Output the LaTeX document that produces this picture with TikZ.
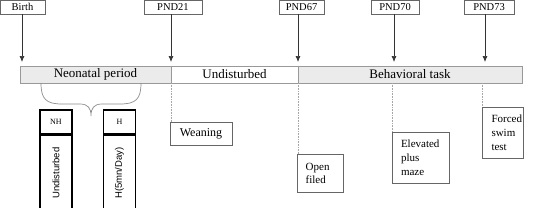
\documentclass[tikz,border=0pt]{standalone}
\usepackage{fontspec}
\setmainfont{Liberation Serif}
\newfontfamily\rotsans{Liberation Sans}
\usetikzlibrary{arrows.meta}
\definecolor{barfill}{HTML}{EBEBEB}
\definecolor{edgegray}{HTML}{666666}
\tikzset{
  x=1pt, y=-1pt,
  topbox/.style={draw=edgegray, line width=0.7pt, fill=white, minimum height=14pt, inner sep=0pt, font=\fontsize{10.5}{12}\selectfont},
  barseg/.style={draw=gray!80, line width=0.8pt, minimum height=17pt, inner sep=0pt, font=\fontsize{13}{15}\selectfont},
  evbox/.style={draw=edgegray, line width=0.7pt, align=left, font=\fontsize{11}{14}\selectfont},
  arr/.style={draw=black!80, line width=0.7pt, -{Latex[length=6pt,width=5pt]}},
  dotline/.style={draw=gray!70, line width=0.6pt, densely dotted},
  grpbox/.style={draw=black, line width=1.1pt, minimum width=32pt, inner sep=0pt},
}
\begin{document}
\begin{tikzpicture}
\useasboundingbox (0,0) rectangle (533,207);
% timeline bar
\node[barseg, fill=barfill, minimum width=151pt] (neo) at (95.5,74.5) {Neonatal period};
\node[barseg, fill=white, minimum width=127pt] (und) at (234.5,74.5) {Undisturbed};
\node[barseg, fill=barfill, minimum width=224pt] (beh) at (410,74.5) {Behavioral task};
% top labels
\node[topbox, minimum width=45pt] (birth) at (22.5,7) {Birth};
\node[topbox, minimum width=58pt] (p21) at (173,7) {PND21};
\node[topbox, minimum width=45pt] (p67) at (301.5,7) {PND67};
\node[topbox, minimum width=48pt] (p70) at (395,7) {PND70};
\node[topbox, minimum width=50pt] (p73) at (489,7) {PND73};
% arrow tips
\coordinate (a0) at (22,62);
\coordinate (a1) at (171,62);
\coordinate (a2) at (298,62);
\coordinate (a3) at (394,62);
\coordinate (a4) at (485,62);
\draw[arr] (a0 |- birth.south) -- (a0);
\draw[arr] (a1 |- p21.south) -- (a1);
\draw[arr] (a2 |- p67.south) -- (a2);
\draw[arr] (a3 |- p70.south) -- (a3);
\draw[arr] (a4 |- p73.south) -- (a4);
% event boxes
\node[evbox, minimum width=62pt, minimum height=23pt, align=center, font=\fontsize{12}{14}\selectfont] (wean) at (201,133.5) {Weaning};
\node[evbox, inner xsep=8.7pt, text width=28.6pt, minimum height=38pt, font=\fontsize{11}{13}\selectfont] (open) at (320,173) {Open\\filed};
\node[evbox, inner xsep=9pt, text width=39pt, minimum height=51pt] (epm) at (420.5,157.5) {Elevated\\plus\\maze};
\node[evbox, inner xsep=9.5pt, text width=22pt, minimum height=51pt] (fst) at (502.5,132.5) {Forced\\swim\\test};
% dotted connectors
\coordinate (d0) at (171,83);
\coordinate (d1) at (298,83);
\coordinate (d2) at (392,83);
\coordinate (d3) at (482.7,83);
\draw[dotline] (d0) -- (d0 |- wean.north);
\draw[dotline] (d1) -- (d1 |- open.north);
\draw[dotline] (d2) -- (d2 |- epm.north);
\draw[dotline] (d3) -- (d3 |- fst.north);
% brace
\draw[draw=gray!90, line width=0.7pt] (41,83) .. controls (41,99) and (46,104) .. (62,104) -- (80,104) .. controls (88,104) and (91,108) .. (91,116)
  .. controls (91,108) and (94,104) .. (102,104) -- (120,104) .. controls (136,104) and (141,99) .. (141,83);
% group boxes
\node[grpbox, minimum height=24pt, font=\fontsize{8}{9}\selectfont] (nh) at (56,122) {NH};
\node[grpbox, minimum height=76pt, anchor=north] (nhb) at (nh.south) {\rotatebox{90}{\rotsans\fontsize{9.5}{11}\selectfont Undisturbed}};
\node[grpbox, minimum height=24pt, font=\fontsize{8}{9}\selectfont] (h) at (119.5,122) {H};
\node[grpbox, minimum height=76pt, anchor=north] (hb) at (h.south) {\rotatebox{90}{\rotsans\fontsize{9.5}{11}\selectfont H(5mn/Day)}};
\end{tikzpicture}
\end{document}
